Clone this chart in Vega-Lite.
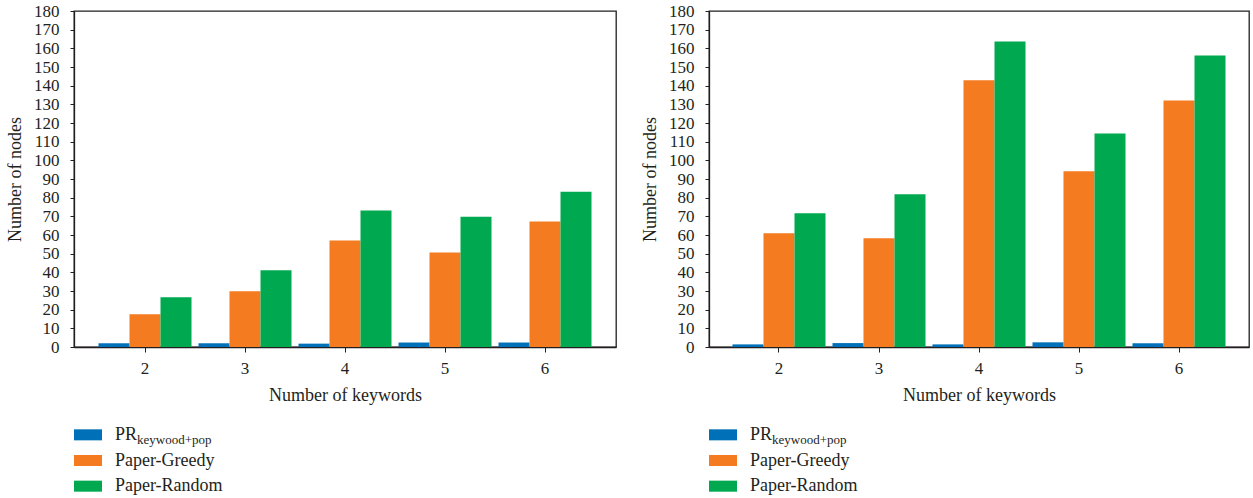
{
  "$schema": "https://vega.github.io/schema/vega-lite/v6.json",
  "background": "white",
  "padding": {"left": 5, "top": 1, "right": 5, "bottom": 0},
  "config": {
    "font": "Liberation Serif",
    "view": {"stroke": "#231f20", "strokeWidth": 1.3},
    "axis": {
      "labelFont": "Liberation Serif",
      "labelFontSize": 17,
      "labelColor": "#231f20",
      "titleFont": "Liberation Serif",
      "titleFontSize": 18,
      "titleFontWeight": "normal",
      "titleColor": "#231f20",
      "domainColor": "#231f20",
      "tickColor": "#231f20",
      "grid": false
    }
  },
  "datasets": {
    "bars": [
      {"panel": "a", "keywords": "2", "method": "PR", "value": 2.0},
      {"panel": "a", "keywords": "2", "method": "Paper-Greedy", "value": 17.5},
      {"panel": "a", "keywords": "2", "method": "Paper-Random", "value": 26.6},
      {"panel": "a", "keywords": "3", "method": "PR", "value": 2.0},
      {"panel": "a", "keywords": "3", "method": "Paper-Greedy", "value": 29.8},
      {"panel": "a", "keywords": "3", "method": "Paper-Random", "value": 41.1},
      {"panel": "a", "keywords": "4", "method": "PR", "value": 1.8},
      {"panel": "a", "keywords": "4", "method": "Paper-Greedy", "value": 57.0},
      {"panel": "a", "keywords": "4", "method": "Paper-Random", "value": 73.1},
      {"panel": "a", "keywords": "5", "method": "PR", "value": 2.4},
      {"panel": "a", "keywords": "5", "method": "Paper-Greedy", "value": 50.6},
      {"panel": "a", "keywords": "5", "method": "Paper-Random", "value": 69.8},
      {"panel": "a", "keywords": "6", "method": "PR", "value": 2.4},
      {"panel": "a", "keywords": "6", "method": "Paper-Greedy", "value": 67.2},
      {"panel": "a", "keywords": "6", "method": "Paper-Random", "value": 83.2},
      {"panel": "b", "keywords": "2", "method": "PR", "value": 1.4},
      {"panel": "b", "keywords": "2", "method": "Paper-Greedy", "value": 60.9},
      {"panel": "b", "keywords": "2", "method": "Paper-Random", "value": 71.6},
      {"panel": "b", "keywords": "3", "method": "PR", "value": 2.1},
      {"panel": "b", "keywords": "3", "method": "Paper-Greedy", "value": 58.2},
      {"panel": "b", "keywords": "3", "method": "Paper-Random", "value": 81.8},
      {"panel": "b", "keywords": "4", "method": "PR", "value": 1.4},
      {"panel": "b", "keywords": "4", "method": "Paper-Greedy", "value": 142.9},
      {"panel": "b", "keywords": "4", "method": "Paper-Random", "value": 163.7},
      {"panel": "b", "keywords": "5", "method": "PR", "value": 2.5},
      {"panel": "b", "keywords": "5", "method": "Paper-Greedy", "value": 94.1},
      {"panel": "b", "keywords": "5", "method": "Paper-Random", "value": 114.4},
      {"panel": "b", "keywords": "6", "method": "PR", "value": 2.0},
      {"panel": "b", "keywords": "6", "method": "Paper-Greedy", "value": 132.1},
      {"panel": "b", "keywords": "6", "method": "Paper-Random", "value": 156.2}
    ],
    "legend": [
      {"method": "PR", "label": "PR", "sub": "keywood+pop"},
      {"method": "Paper-Greedy", "label": "Paper-Greedy", "sub": ""},
      {"method": "Paper-Random", "label": "Paper-Random", "sub": ""}
    ]
  },
  "bounds": "flush",
  "columns": 2,
  "spacing": {"row": 75, "column": 93},
  "concat": [
    {
      "width": 542,
      "height": 336,
      "data": {"name": "bars"},
      "transform": [{"filter": "datum.panel == 'a'"}],
      "mark": {"type": "bar"},
      "encoding": {
        "x": {"field": "keywords", "type": "ordinal", "scale": {"paddingInner": 0.07, "paddingOuter": 0.245},
              "axis": {"title": "Number of keywords", "labelAngle": 0, "tickSize": 5, "labelPadding": 8, "titlePadding": 10, "domainWidth": 1.5}},
        "xOffset": {"field": "method", "type": "nominal", "sort": ["PR", "Paper-Greedy", "Paper-Random"], "scale": {"paddingInner": 0, "paddingOuter": 0}},
        "y": {"field": "value", "type": "quantitative", "scale": {"domain": [0, 180], "nice": false},
              "axis": {"title": "Number of nodes", "values": [0,10,20,30,40,50,60,70,80,90,100,110,120,130,140,150,160,170,180], "tickSize": 4, "labelPadding": 11, "titlePadding": 9, "domainWidth": 1.3}},
        "color": {"field": "method", "type": "nominal", "scale": {"domain": ["PR", "Paper-Greedy", "Paper-Random"], "range": ["#0071b8", "#f47b20", "#00a94f"]}, "legend": null}
      }
    },
    {
      "width": 540,
      "height": 336,
      "data": {"name": "bars"},
      "transform": [{"filter": "datum.panel == 'b'"}],
      "mark": {"type": "bar"},
      "encoding": {
        "x": {"field": "keywords", "type": "ordinal", "scale": {"paddingInner": 0.07, "paddingOuter": 0.235},
              "axis": {"title": "Number of keywords", "labelAngle": 0, "tickSize": 5, "labelPadding": 8, "titlePadding": 10, "domainWidth": 1.5}},
        "xOffset": {"field": "method", "type": "nominal", "sort": ["PR", "Paper-Greedy", "Paper-Random"], "scale": {"paddingInner": 0, "paddingOuter": 0}},
        "y": {"field": "value", "type": "quantitative", "scale": {"domain": [0, 180], "nice": false},
              "axis": {"title": "Number of nodes", "values": [0,10,20,30,40,50,60,70,80,90,100,110,120,130,140,150,160,170,180], "tickSize": 4, "labelPadding": 11, "titlePadding": 9, "domainWidth": 1.3}},
        "color": {"field": "method", "type": "nominal", "scale": {"domain": ["PR", "Paper-Greedy", "Paper-Random"], "range": ["#0071b8", "#f47b20", "#00a94f"]}, "legend": null}
      }
    },
    {
      "width": 250,
      "height": 77,
      "data": {"name": "legend"},
      "view": {"stroke": null},
      "encoding": {
        "y": {"field": "method", "type": "nominal", "sort": ["PR", "Paper-Greedy", "Paper-Random"], "scale": {"paddingInner": 0.57, "paddingOuter": 0.285}, "axis": null}
      },
      "layer": [
        {
          "mark": {"type": "rect"},
          "encoding": {
            "x": {"datum": 0, "type": "quantitative", "scale": {"domain": [0, 250], "nice": false, "zero": false}, "axis": null},
            "x2": {"datum": 28},
            "color": {"field": "method", "type": "nominal", "scale": {"domain": ["PR", "Paper-Greedy", "Paper-Random"], "range": ["#0071b8", "#f47b20", "#00a94f"]}, "legend": null}
          }
        },
        {
          "mark": {"type": "text", "align": "left", "baseline": "alphabetic", "dy": 5, "fontSize": 18, "font": "Liberation Serif", "color": "#231f20"},
          "encoding": {"x": {"datum": 41, "type": "quantitative"}, "text": {"field": "label"}}
        },
        {
          "mark": {"type": "text", "align": "left", "baseline": "alphabetic", "dy": 9, "fontSize": 13, "font": "Liberation Serif", "color": "#231f20"},
          "encoding": {"x": {"datum": 63, "type": "quantitative"}, "text": {"field": "sub"}}
        }
      ]
    },
    {
      "width": 250,
      "height": 77,
      "data": {"name": "legend"},
      "view": {"stroke": null},
      "encoding": {
        "y": {"field": "method", "type": "nominal", "sort": ["PR", "Paper-Greedy", "Paper-Random"], "scale": {"paddingInner": 0.57, "paddingOuter": 0.285}, "axis": null}
      },
      "layer": [
        {
          "mark": {"type": "rect"},
          "encoding": {
            "x": {"datum": 0, "type": "quantitative", "scale": {"domain": [0, 250], "nice": false, "zero": false}, "axis": null},
            "x2": {"datum": 28},
            "color": {"field": "method", "type": "nominal", "scale": {"domain": ["PR", "Paper-Greedy", "Paper-Random"], "range": ["#0071b8", "#f47b20", "#00a94f"]}, "legend": null}
          }
        },
        {
          "mark": {"type": "text", "align": "left", "baseline": "alphabetic", "dy": 5, "fontSize": 18, "font": "Liberation Serif", "color": "#231f20"},
          "encoding": {"x": {"datum": 41, "type": "quantitative"}, "text": {"field": "label"}}
        },
        {
          "mark": {"type": "text", "align": "left", "baseline": "alphabetic", "dy": 9, "fontSize": 13, "font": "Liberation Serif", "color": "#231f20"},
          "encoding": {"x": {"datum": 63, "type": "quantitative"}, "text": {"field": "sub"}}
        }
      ]
    }
  ]
}
